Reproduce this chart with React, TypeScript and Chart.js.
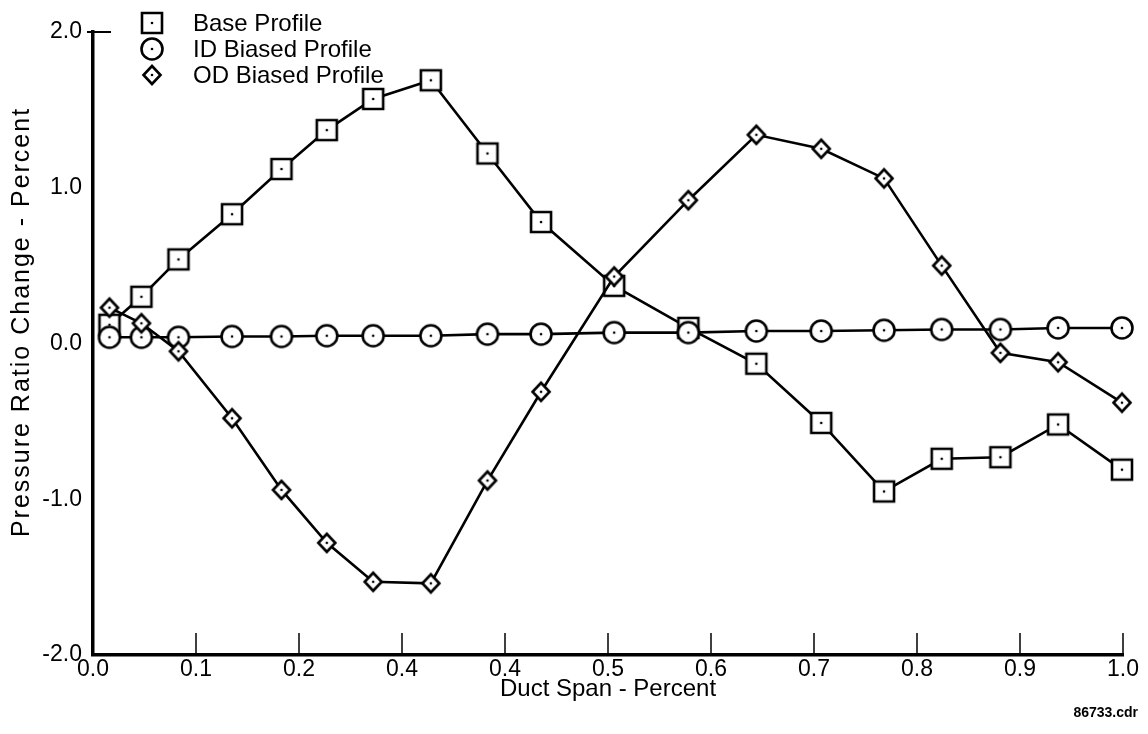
import React, { useEffect, useRef } from "react";
import { Chart, registerables } from "chart.js";

Chart.register(...registerables);

// ---- data ----
const spanValues = [0.016, 0.047, 0.083, 0.135, 0.183, 0.227, 0.272, 0.328, 0.383, 0.435, 0.506, 0.578, 0.644, 0.707, 0.768, 0.824, 0.881, 0.937, 0.999];
const baseProfile = [0.12, 0.3, 0.54, 0.83, 1.12, 1.37, 1.57, 1.69, 1.22, 0.78, 0.37, 0.1, -0.13, -0.51, -0.95, -0.74, -0.73, -0.52, -0.81];
const idBiasedProfile = [0.04, 0.04, 0.04, 0.045, 0.045, 0.05, 0.05, 0.05, 0.06, 0.06, 0.07, 0.07, 0.08, 0.08, 0.085, 0.09, 0.09, 0.1, 0.1];
const odBiasedProfile = [0.23, 0.13, -0.05, -0.48, -0.94, -1.28, -1.53, -1.54, -0.88, -0.31, 0.43, 0.92, 1.34, 1.25, 1.06, 0.5, -0.06, -0.12, -0.38];
const xTickLabels = ["0.0", "0.1", "0.2", "0.4", "0.4", "0.5", "0.6", "0.7", "0.8", "0.9", "1.0"];
const yTickLabels = ["-2.0", "-1.0", "0.0", "1.0", "2.0"];
const seriesNames = ["Base Profile", "ID Biased Profile", "OD Biased Profile"];
const xTitle = "Duct Span - Percent";
const yTitle = "Pressure Ratio Change - Percent";
const fileLabel = "86733.cdr";

const FONT = '"Liberation Sans", Arial, Helvetica, sans-serif';

function makeMarker(kind: string): HTMLCanvasElement {
  const size = 28;
  const c = document.createElement("canvas");
  c.width = size;
  c.height = size;
  const ctx = c.getContext("2d")!;
  const m = size / 2;
  ctx.lineWidth = 2.6;
  ctx.strokeStyle = "#000";
  ctx.fillStyle = "#fff";
  ctx.beginPath();
  if (kind === "square") {
    ctx.rect(m - 10, m - 10, 20, 20);
  } else if (kind === "circle") {
    ctx.arc(m, m, 10.5, 0, Math.PI * 2);
  } else {
    ctx.moveTo(m, m - 9);
    ctx.lineTo(m + 8.5, m);
    ctx.lineTo(m, m + 9);
    ctx.lineTo(m - 8.5, m);
    ctx.closePath();
  }
  ctx.fill();
  ctx.stroke();
  ctx.fillStyle = "#000";
  ctx.beginPath();
  ctx.arc(m, m, 1.3, 0, Math.PI * 2);
  ctx.fill();
  return c;
}

export default function App() {
  const canvasRef = useRef<HTMLCanvasElement | null>(null);

  useEffect(() => {
    if (!canvasRef.current) return;
    const markers = [makeMarker("square"), makeMarker("circle"), makeMarker("diamond")];
    const seriesValues = [baseProfile, idBiasedProfile, odBiasedProfile];

    const decorPlugin = {
      id: "decor",
      beforeDatasetsDraw(chart: any) {
        const { ctx, chartArea, scales } = chart;
        const xs = scales.x;
        ctx.save();
        ctx.strokeStyle = "#000";
        ctx.lineWidth = 1.5;
        for (let i = 1; i < xs.ticks.length; i++) {
          const px = xs.getPixelForValue(xs.ticks[i].value);
          ctx.beginPath();
          ctx.moveTo(px, chartArea.bottom);
          ctx.lineTo(px, chartArea.bottom - 22);
          ctx.stroke();
        }
        ctx.lineWidth = 2;
        ctx.beginPath();
        ctx.moveTo(chartArea.left - 6, chartArea.top);
        ctx.lineTo(chartArea.left + 18, chartArea.top);
        ctx.stroke();
        ctx.restore();
      },
      afterDraw(chart: any) {
        const { ctx } = chart;
        ctx.save();
        const ys = [23, 49, 75];
        ctx.font = `24px ${FONT}`;
        ctx.fillStyle = "#000";
        ctx.textAlign = "left";
        ctx.textBaseline = "middle";
        for (let i = 0; i < 3; i++) {
          const mk = markers[i];
          ctx.drawImage(mk, 152 - mk.width / 2, ys[i] - mk.height / 2);
          ctx.fillText(seriesNames[i], 193, ys[i] + 1);
        }
        // y axis title
        ctx.save();
        ctx.translate(22, 322);
        ctx.rotate(-Math.PI / 2);
        ctx.textAlign = "center";
        ctx.font = `25px ${FONT}`;
        try {
          (ctx as any).letterSpacing = "2px";
        } catch (e) {}
        ctx.fillText(yTitle, 0, 0);
        ctx.restore();

        ctx.font = `bold 14px ${FONT}`;
        ctx.textAlign = "right";
        ctx.fillText(fileLabel, 1138, 713);
        ctx.restore();
      },
    };

    const orders = [3, 2, 1];
    const chart = new Chart(canvasRef.current, {
      type: "line",
      data: {
        datasets: seriesValues.map((vals, i) => ({
          label: seriesNames[i],
          data: spanValues.map((x, j) => ({ x, y: vals[j] })),
          borderColor: "#000",
          borderWidth: 2.6,
          backgroundColor: "#fff",
          pointStyle: markers[i] as any,
          pointRadius: 10,
          pointHoverRadius: 10,
          tension: 0,
          fill: false,
          clip: false,
          order: orders[i],
        })),
      },
      options: {
        responsive: false,
        animation: false,
        layout: { padding: { top: 32, right: 25, left: 0, bottom: 0 } },
        plugins: {
          legend: { display: false },
          tooltip: { enabled: false },
        },
        scales: {
          x: {
            type: "linear",
            min: 0,
            max: 1,
            afterFit: (s: any) => {
              s.height = 79;
            },
            grid: { display: false, drawTicks: false },
            border: { display: true, color: "#000", width: 3.5 },
            ticks: {
              stepSize: 0.1,
              autoSkip: false,
              maxRotation: 0,
              padding: 1,
              color: "#000",
              font: { family: FONT, size: 23 },
              callback: (_v: any, idx: number) => xTickLabels[idx] ?? "",
            },
            title: {
              display: true,
              text: xTitle,
              color: "#000",
              font: { family: FONT, size: 24 },
              padding: { top: 0, bottom: 30 },
            },
          },
          y: {
            type: "linear",
            min: -2,
            max: 2,
            afterFit: (s: any) => {
              s.width = 93;
            },
            grid: { display: false, drawTicks: false },
            border: { display: true, color: "#000", width: 3.5 },
            ticks: {
              stepSize: 1,
              padding: 11,
              color: "#000",
              font: { family: FONT, size: 23 },
              callback: (_v: any, idx: number) => yTickLabels[idx] ?? "",
            },
            title: { display: false },
          },
        },
      },
      plugins: [decorPlugin],
    } as any);

    return () => {
      chart.destroy();
    };
  }, []);

  return (
    <div style={{ position: "fixed", left: 0, top: 0, width: 1148, height: 734, background: "#fff" }}>
      <canvas ref={canvasRef} width={1148} height={734} style={{ display: "block" }} />
    </div>
  );
}
